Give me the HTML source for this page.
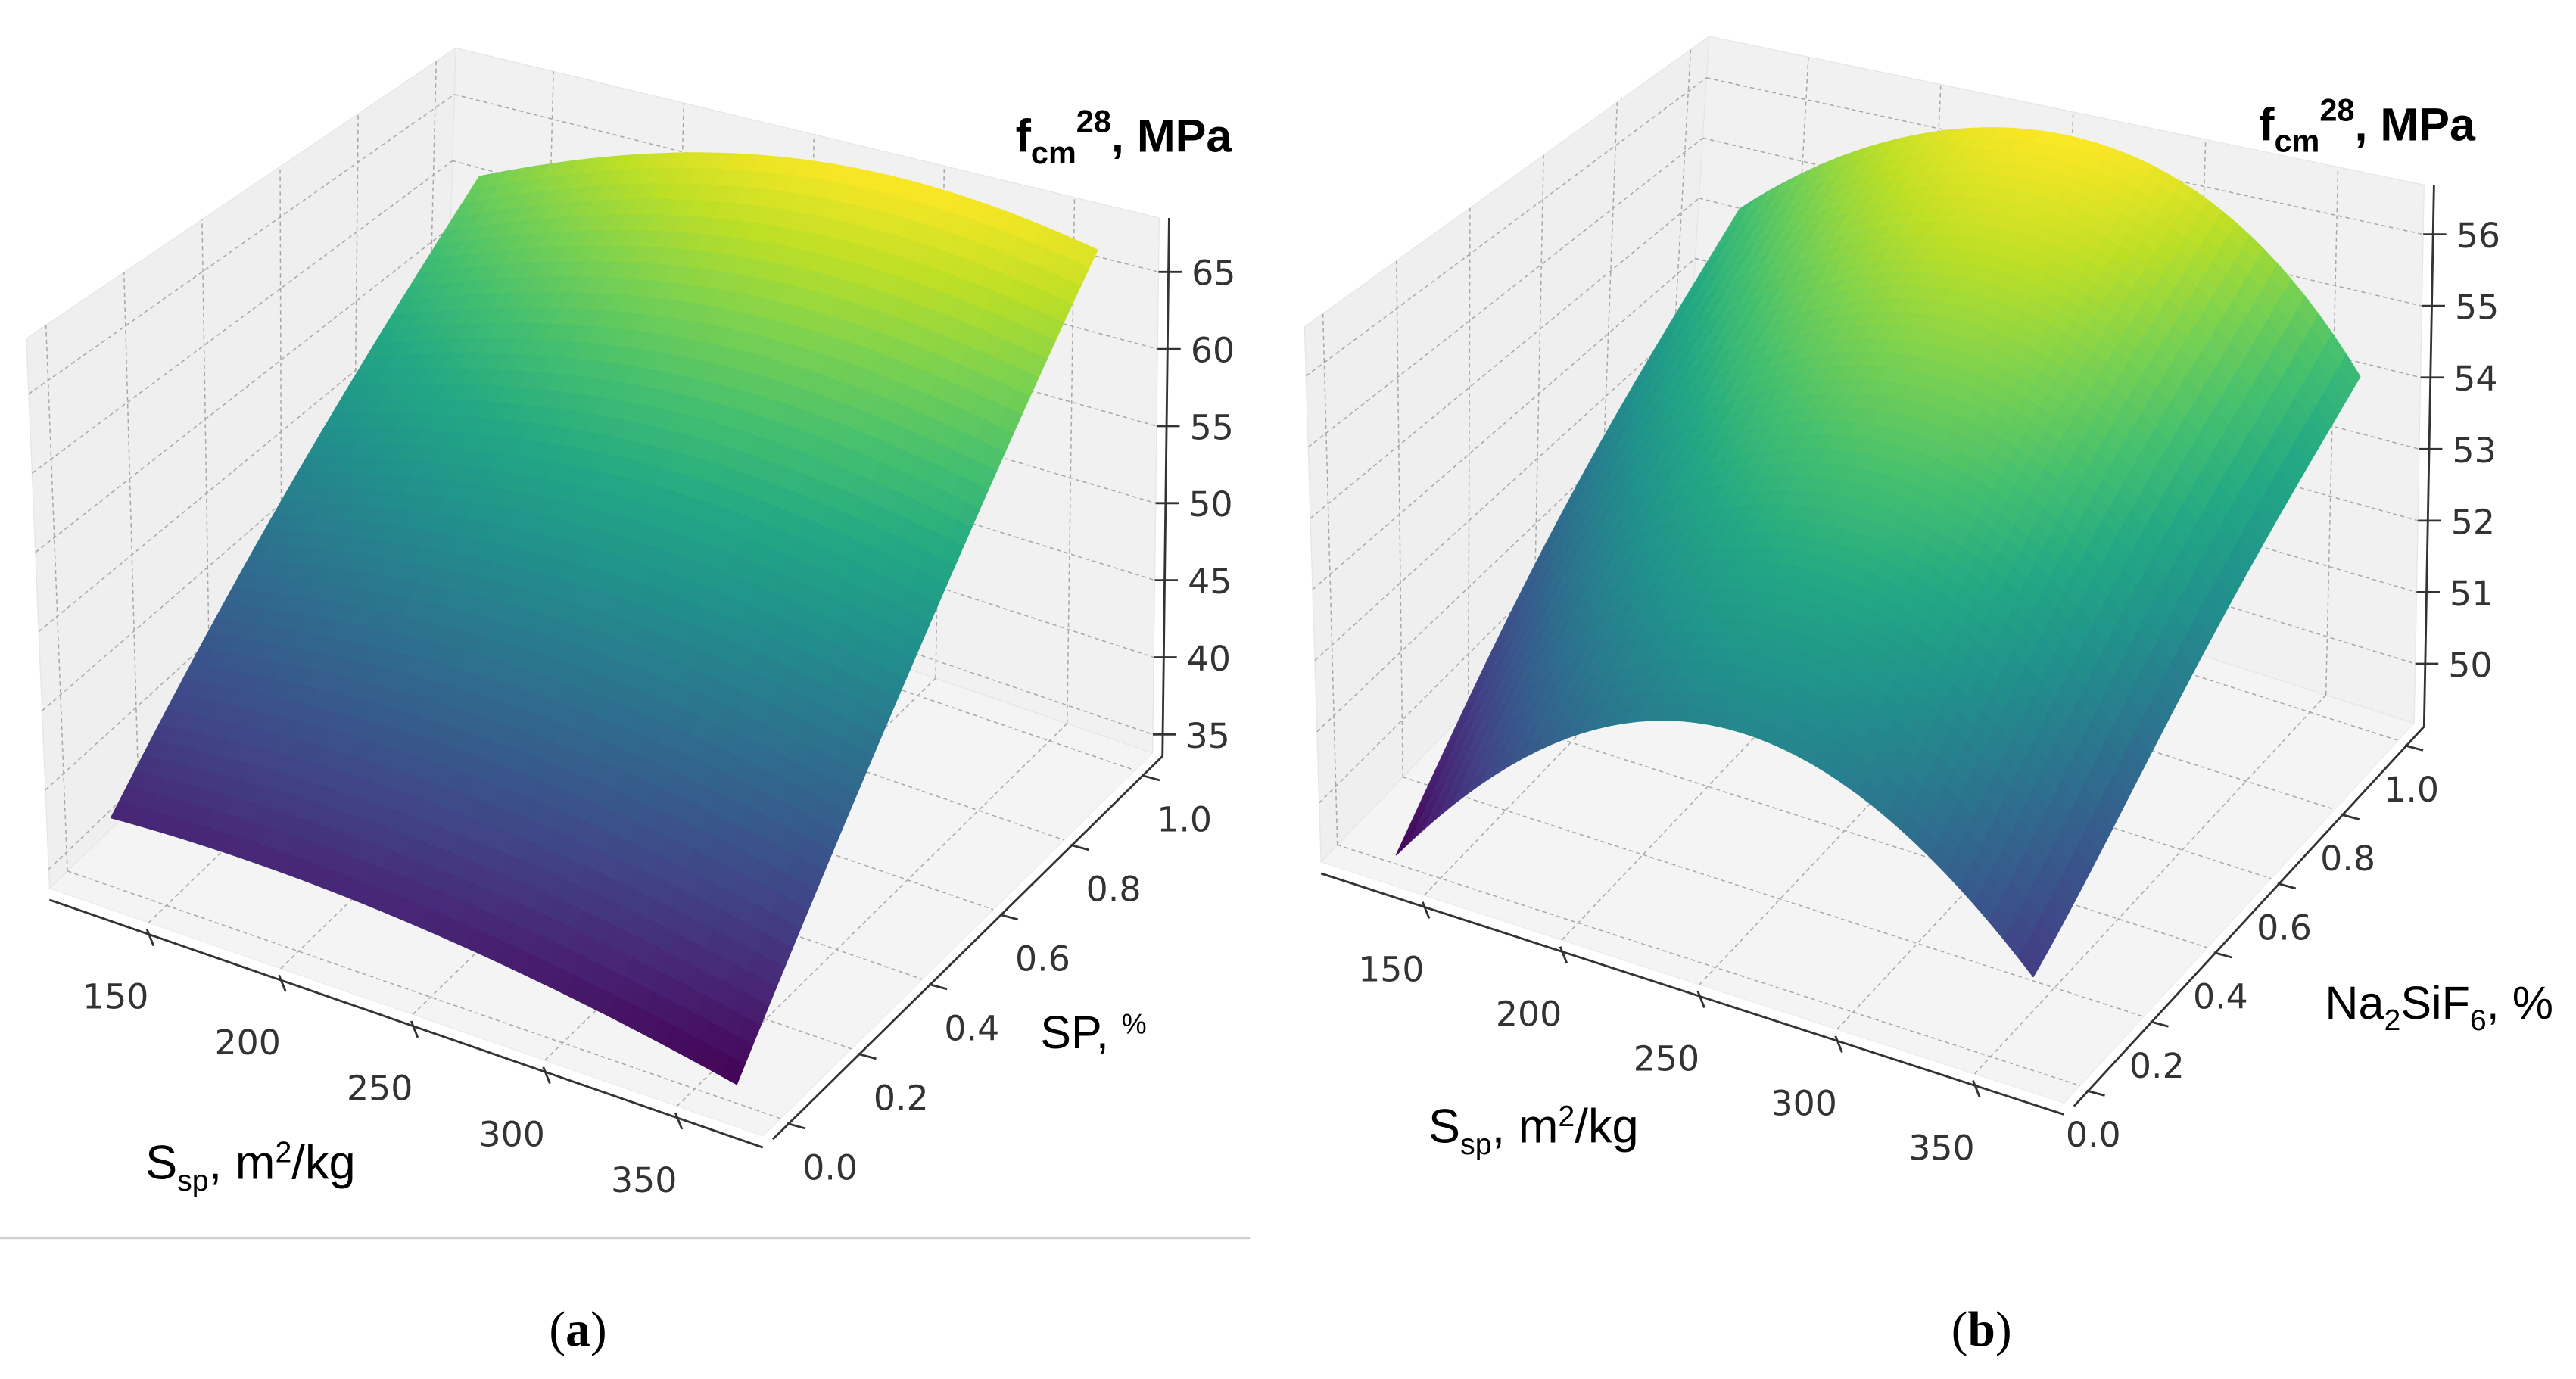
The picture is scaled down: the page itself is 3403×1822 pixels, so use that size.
<!DOCTYPE html>
<html><head><meta charset="utf-8">
<style>
html,body{margin:0;padding:0;background:#fff;}
svg{display:block;}
text{font-family:"DejaVu Sans","Liberation Sans",sans-serif;}
</style></head>
<body>
<svg id="fig" xmlns="http://www.w3.org/2000/svg" width="3403" height="1822" viewBox="0 0 1560 835.2">
<rect x="0" y="0" width="1560" height="836" fill="#fff"/>
<g id="pa"></g>
<g id="pb"></g>
<line x1="0" y1="750" x2="757" y2="750" stroke="#d0d0d0" stroke-width="1"/>
<text x="350" y="815" text-anchor="middle" style="font-family:'Liberation Serif',serif" font-size="30">(<tspan font-weight="bold">a</tspan>)</text>
<text x="1200" y="815" text-anchor="middle" style="font-family:'Liberation Serif',serif" font-size="30">(<tspan font-weight="bold">b</tspan>)</text>
</svg>
<script>
// ---------- data ----------
const sspNodesA = [130, 189, 248, 307, 366];
const spNodesA = [0, 0.25, 0.5, 0.75, 1];
const zRowSp0A   = [38.2, 38.5, 38.0, 36.8, 35.0];
const zRowSp025A = [43.8, 45.2, 45.5, 44.7, 43.0];
const zRowSp05A  = [49.4, 51.9, 53.0, 52.6, 51.0];
const zRowSp075A = [55.0, 58.6, 60.5, 60.5, 59.0];
const zRowSp1A   = [60.8, 65.3, 67.8, 68.2, 66.8];

const sspNodesB = [134, 192, 250, 308, 366];
const naNodesB = [0, 0.25, 0.5, 0.75, 1];
const zRowNa0B   = [49.3, 51.6, 52.6, 52.2, 50.5];
const zRowNa025B = [50.6, 52.8, 53.7, 53.3, 51.4];
const zRowNa05B  = [51.9, 53.9, 54.8, 54.4, 52.4];
const zRowNa075B = [53.1, 55.0, 55.8, 55.3, 53.3];
const zRowNa1B   = [54.3, 56.0, 56.6, 56.1, 54.1];

const sspTicks = [150, 200, 250, 300, 350];
const fracTicks = [0, 0.2, 0.4, 0.6, 0.8, 1.0];
const fracTickLabels = ["0.0","0.2","0.4","0.6","0.8","1.0"];
const zTicksA = [35, 40, 45, 50, 55, 60, 65];
const zTicksB = [50, 51, 52, 53, 54, 55, 56];

// ---------- rendering ----------
const NS = "http://www.w3.org/2000/svg";
const VIR = ["#440154","#482475","#414487","#355f8d","#2a788e","#21918c","#22a884","#44bf70","#7ad151","#bddf26","#fde725"];
function hex(h){return [parseInt(h.substr(1,2),16),parseInt(h.substr(3,2),16),parseInt(h.substr(5,2),16)];}
function viridis(t){t=Math.max(0,Math.min(1,t));const s=t*10,i=Math.min(9,Math.floor(s)),f=s-i;const a=hex(VIR[i]),b=hex(VIR[i+1]);
 return "rgb("+a.map((c,k)=>Math.round(c+(b[k]-c)*f)).join(",")+")";}
function mk(parent,tag,attrs){const e=document.createElementNS(NS,tag);for(const k in attrs)e.setAttribute(k,attrs[k]);parent.appendChild(e);return e;}
function lagr(nodes,vals,x){let s=0;for(let i=0;i<nodes.length;i++){let l=1;for(let j=0;j<nodes.length;j++)if(j!==i)l*=(x-nodes[j])/(nodes[i]-nodes[j]);s+=l*vals[i];}return s;}

function drawPanel(g,cfg){
 const {FLb,FRb,BLb,BRb,FLt,FRt,BLt,BRt,xr,yr,zr}=cfg;
 function bl(A,B,C,D,u,v){return [A[0]+(B[0]-A[0])*u+(C[0]-A[0])*v+(A[0]-B[0]-C[0]+D[0])*u*v, A[1]+(B[1]-A[1])*u+(C[1]-A[1])*v+(A[1]-B[1]-C[1]+D[1])*u*v];}
 function P(x,y,z){const u=(x-xr[0])/(xr[1]-xr[0]),v=(y-yr[0])/(yr[1]-yr[0]),w=(z-zr[0])/(zr[1]-zr[0]);
  const f=bl(FLb,FRb,BLb,BRb,u,v),t=bl(FLt,FRt,BLt,BRt,u,v);return [f[0]+(t[0]-f[0])*w,f[1]+(t[1]-f[1])*w];}
 const pts=a=>a.map(p=>p[0].toFixed(2)+","+p[1].toFixed(2)).join(" ");
 const [x0,x1]=xr,[y0,y1]=yr,[z0,z1]=zr;
 let e;
 e=mk(g,"polygon",{points:pts([P(x0,y0,z0),P(x1,y0,z0),P(x1,y1,z0),P(x0,y1,z0)]),fill:"#f4f4f4",stroke:"#ececec","stroke-width":0.6});
 
 
 e=mk(g,"polygon",{points:pts([P(x0,y0,z0),P(x0,y1,z0),P(x0,y1,z1),P(x0,y0,z1)]),fill:"#efefef",stroke:"#e6e6e6","stroke-width":0.6});
 
 
 e=mk(g,"polygon",{points:pts([P(x0,y1,z0),P(x1,y1,z0),P(x1,y1,z1),P(x0,y1,z1)]),fill:"#f1f1f1",stroke:"#e6e6e6","stroke-width":0.6});
 
 
 const gs={stroke:"#a8a8a8","stroke-width":0.7,"stroke-dasharray":"2.5,2",fill:"none"};
 function gl(a,b,name){const l=mk(g,"line",Object.assign({x1:a[0],y1:a[1],x2:b[0],y2:b[1]},gs));}
 cfg.xt.forEach(t=>{gl(P(t,y0,z0),P(t,y1,z0),'grid-x-floor');gl(P(t,y1,z0),P(t,y1,z1),'grid-x-back');});
 cfg.yt.forEach(t=>{gl(P(x0,t,z0),P(x1,t,z0),'grid-y-floor');gl(P(x0,t,z0),P(x0,t,z1),'grid-y-left');});
 cfg.zt.forEach(t=>{gl(P(x0,y0,t),P(x0,y1,t),'grid-z-left');gl(P(x0,y1,t),P(x1,y1,t),'grid-z-back');});
 const ax={stroke:"#333","stroke-width":1.3};
 function axl(a,b,name){const l=mk(g,"line",Object.assign({x1:a[0],y1:a[1],x2:b[0],y2:b[1]},ax));}
 const xa=P(x0,y0,z0),xb=P(x1,y0,z0);
 axl([xa[0],xa[1]+7],[xb[0],xb[1]+7],'x-axis-line');
 const ya=P(x1,y0,z0),yb=P(x1,y1,z0);
 axl([ya[0]+6,ya[1]+2],[yb[0]+6,yb[1]+2],'y-axis-line');
 const za=P(x1,y1,z0),zb=P(x1,y1,z1);
 axl([za[0]+6,za[1]+2],[zb[0]+6,zb[1]],'z-axis-line');
 const fs=21, tc="#333";
 cfg.xt.forEach(t=>{const p=P(t,y0,z0);mk(g,"line",Object.assign({x1:p[0]-1,y1:p[1]+4,x2:p[0]+3,y2:p[1]+14},ax));
  const tx=mk(g,"text",{x:p[0]-20,y:p[1]+52,"font-size":fs,"text-anchor":"middle",fill:tc});tx.textContent=t;
  });
 cfg.yt.forEach((t,i)=>{const p=P(x1,t,z0);mk(g,"line",Object.assign({x1:p[0]+4,y1:p[1]+3,x2:p[0]+15,y2:p[1]+6},ax));
  const tx=mk(g,"text",{x:p[0]+cfg.ydx,y:p[1]+37,"font-size":fs,"text-anchor":"middle",fill:tc});tx.textContent=cfg.ytl[i];
  });
 cfg.zt.forEach(t=>{const p=P(x1,y1,t);mk(g,"line",Object.assign({x1:p[0],y1:p[1],x2:p[0]+14,y2:p[1]},ax));
  const tx=mk(g,"text",{x:p[0]+20,y:p[1]+8,"font-size":fs,fill:tc});tx.textContent=t;
  });
 const N=44, sx=cfg.sx, sy=cfg.sy, rows=cfg.rows;
 const zmin=Math.min(...rows.flat()), zmax=Math.max(...rows.flat());
 function Z(x,y){const col=rows.map(r=>lagr(sx,r,x));return lagr(sy,col,y);}
 const grid=[];
 for(let j=0;j<=N;j++){grid.push([]);for(let i=0;i<=N;i++){const x=sx[0]+(sx[sx.length-1]-sx[0])*i/N,y=sy[0]+(sy[sy.length-1]-sy[0])*j/N;const z=Z(x,y);grid[j].push({p:P(x,y,z),z});}}
 const sg=mk(g,"g",{});
 
 
 for(let j=N-1;j>=0;j--){for(let i=0;i<N;i++){
  const a=grid[j][i],b=grid[j][i+1],c=grid[j+1][i+1],d=grid[j+1][i];
  const zm=(a.z+b.z+c.z+d.z)/4; const col=viridis((zm-zmin)/(zmax-zmin));
  const q=mk(sg,"polygon",{points:pts([a.p,b.p,c.p,d.p]),fill:col,stroke:col,"stroke-width":0.7,"stroke-linejoin":"round"});
  
  
 }}
}

drawPanel(document.getElementById('pa'),{
 FLb:[30,538],FRb:[462,688],BLb:[268,308],BRb:[698,456],
 FLt:[16,205],FRt:[457,352],BLt:[276,29],BRt:[702,132],
 xr:[112.5,382.5],yr:[-0.05,1.05],zr:[33.8,68.5],ydx:30,
 xt:sspTicks,yt:fracTicks,ytl:fracTickLabels,zt:zTicksA,
 sx:sspNodesA,sy:spNodesA,rows:[zRowSp0A,zRowSp025A,zRowSp05A,zRowSp075A,zRowSp1A]});
drawPanel(document.getElementById('pb'),{
 FLb:[800,522],FRb:[1250,668],BLb:[1018,296],BRb:[1462,438],
 FLt:[790,198],FRt:[1245,345],BLt:[1035,22],BRt:[1468,112],
 xr:[112.5,382.5],yr:[-0.05,1.05],zr:[49.17,56.69],ydx:8,
 xt:sspTicks,yt:fracTicks,ytl:fracTickLabels,zt:zTicksB,
 sx:sspNodesB,sy:naNodesB,rows:[zRowNa0B,zRowNa025B,zRowNa05B,zRowNa075B,zRowNa1B]});
</script>
<script>
(function(){
 const svg=document.getElementById('fig');const NS="http://www.w3.org/2000/svg";
 function t(x,y,html,name,size,weight){const e=document.createElementNS(NS,"text");e.setAttribute("x",x);e.setAttribute("y",y);e.setAttribute("font-size",size);if(weight)e.setAttribute("font-weight",weight);
  e.setAttribute("style","font-family:'Liberation Sans',sans-serif");e.innerHTML=html;
  
  
  svg.appendChild(e);}
 t(615,92,'f<tspan font-size="19" dy="7">cm</tspan><tspan font-size="19" dy="-19">28</tspan><tspan dy="12">, MPa</tspan>','z-axis-title-a',28,'bold');
 t(1368,85,'f<tspan font-size="19" dy="7">cm</tspan><tspan font-size="19" dy="-19">28</tspan><tspan dy="12">, MPa</tspan>','z-axis-title-b',28,'bold');
 t(630,635,'SP, <tspan font-size="17" dy="-9">%</tspan>','y-axis-title-a',28);
 t(1408,617,'Na<tspan font-size="18" dy="7">2</tspan><tspan dy="-7">SiF</tspan><tspan font-size="18" dy="7">6</tspan><tspan dy="-7">, %</tspan>','y-axis-title-b',28);
 t(88,714,'S<tspan font-size="18" dy="7">sp</tspan><tspan dy="-7">, m</tspan><tspan font-size="18" dy="-10">2</tspan><tspan dy="10">/kg</tspan>','x-axis-title-a',29);
 t(865,692,'S<tspan font-size="18" dy="7">sp</tspan><tspan dy="-7">, m</tspan><tspan font-size="18" dy="-10">2</tspan><tspan dy="10">/kg</tspan>','x-axis-title-b',29);
})();
</script>
</body></html>
